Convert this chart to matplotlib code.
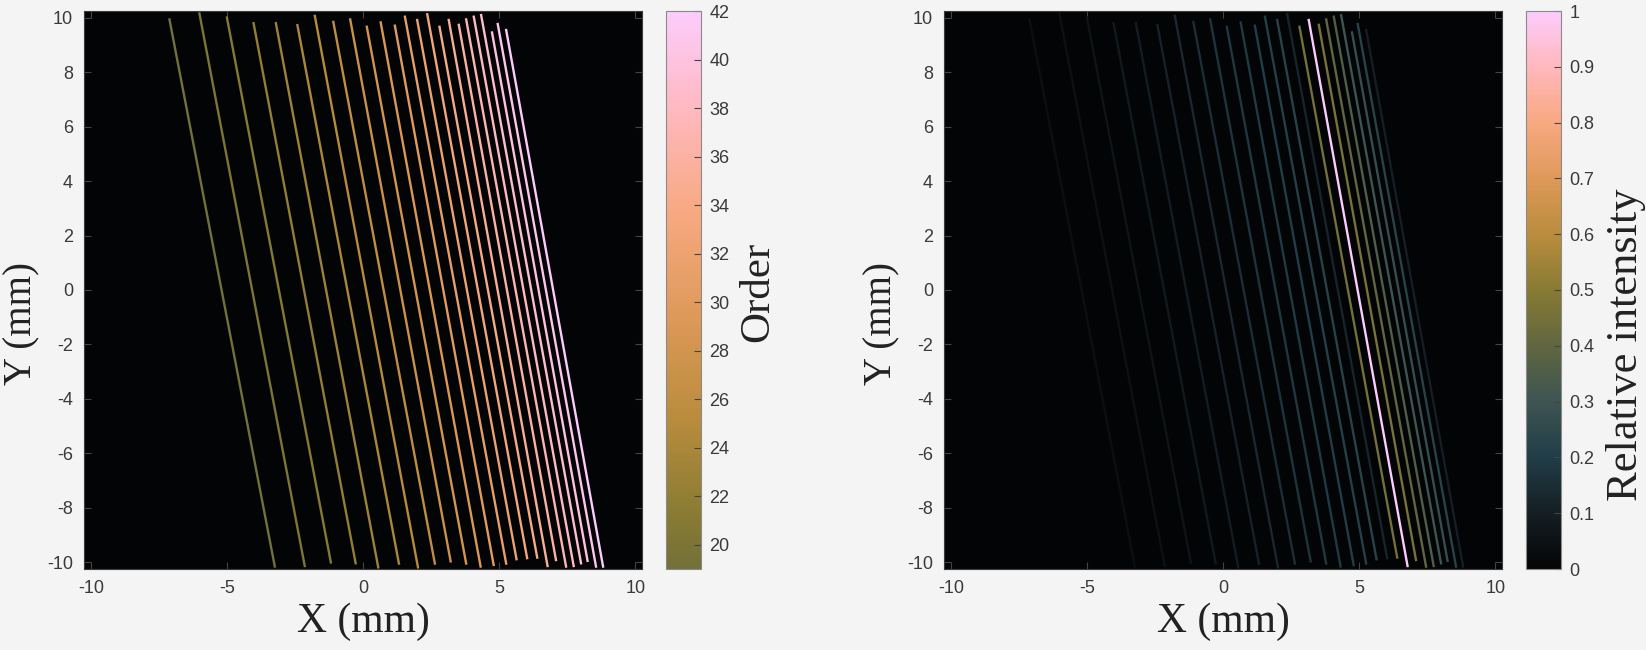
import numpy as np
import matplotlib
matplotlib.use("Agg")
from matplotlib import pyplot as plt
from matplotlib.colors import LinearSegmentedColormap, Normalize
from matplotlib.cm import ScalarMappable
from matplotlib.ticker import FormatStrFormatter

plt.rcParams["axes.unicode_minus"] = False

# diffraction orders, one line each
orders = list(range(19, 43))
x_top = [-7.11, -6.01, -5.00, -4.02, -3.20, -2.41, -1.77, -1.09, -0.47, 0.14, 0.65, 1.17,
         1.54, 1.99, 2.36, 2.81, 3.15, 3.52, 3.79, 4.07, 4.34, 4.74, 4.95, 5.26]
y_top = [9.94, 10.16, 10.01, 9.80, 9.80, 9.73, 10.07, 9.85, 9.94, 9.67, 9.83, 9.71,
         10.04, 9.92, 10.13, 9.67, 9.92, 9.74, 9.94, 10.04, 10.10, 9.46, 9.77, 9.55]
x_bottom = [-3.24, -2.14, -1.18, -0.27, 0.56, 1.32, 2.02, 2.64, 3.22, 3.79, 4.32, 4.80,
            5.26, 5.64, 6.03, 6.40, 6.78, 7.09, 7.46, 7.74, 8.01, 8.25, 8.56, 8.82]
y_bottom = [-10.16, -10.14, -10.01, -10.04, -10.19, -10.05, -10.19, -10.05, -9.97, -10.05, -10.16, -10.10,
            -10.05, -9.89, -9.85, -9.83, -10.14, -9.92, -10.16, -10.14, -10.04, -9.95, -10.16, -10.16]
intensity = [0.04, 0.05, 0.06, 0.08, 0.09, 0.11, 0.13, 0.15, 0.17, 0.18, 0.19, 0.20,
             0.21, 0.22, 0.12, 0.45, 1.00, 0.46, 0.40, 0.35, 0.30, 0.27, 0.22, 0.10]

order_ticks = list(range(20, 43, 2))
intensity_ticks = [0, 0.1, 0.2, 0.3, 0.4, 0.5, 0.6, 0.7, 0.8, 0.9, 1]

# batlowK-like colour map
anchors = [(0.0, (0.02, 0.02, 0.02)), (0.1, (0.08, 0.12, 0.14)), (0.2, (0.13, 0.24, 0.28)),
           (0.3, (0.24, 0.33, 0.32)), (0.4, (0.38, 0.40, 0.25)), (0.5, (0.53, 0.48, 0.20)),
           (0.6, (0.73, 0.55, 0.24)), (0.7, (0.87, 0.60, 0.35)), (0.8, (0.97, 0.66, 0.50)),
           (0.9, (1.0, 0.72, 0.74)), (1.0, (0.99, 0.80, 0.99))]
cmap_full = LinearSegmentedColormap.from_list("batlowk", anchors)
cmap_order = LinearSegmentedColormap.from_list("batlowk_top", cmap_full(np.linspace(0.45, 1, 256)))

BG = "#f4f4f4"
TICKFONT = "Liberation Sans"
LABELFONT = "Liberation Serif"
W, H = 1646, 650

fig = plt.figure(figsize=(16.46, 6.5), dpi=100, facecolor=BG)


def style_axes(ax):
    ax.set_facecolor("#030406")
    ax.set_xlim(-10.25, 10.25)
    ax.set_ylim(-10.25, 10.25)
    ax.set_xticks([-10, -5, 0, 5, 10])
    ax.set_yticks(range(-10, 11, 2))
    ax.tick_params(direction="in", length=5, color="#444444", top=True, right=True,
                   labelsize=13, labelcolor="#3a3a3a", pad=8)
    for lab in ax.get_xticklabels() + ax.get_yticklabels():
        lab.set_fontfamily(TICKFONT)
    for s in ax.spines.values():
        s.set_color("#3c3c3c")
        s.set_linewidth(0.8)
    ax.set_xlabel("X (mm)", fontsize=30, family=LABELFONT, color="#222222", labelpad=4)
    ax.set_ylabel("Y (mm)", fontsize=28, family=LABELFONT, color="#222222")
    ax.yaxis.set_label_coords(-0.078, 0.44)


def style_cbar(cb):
    cb.outline.set_edgecolor("#8a8a8a")
    cb.outline.set_linewidth(0.8)
    cb.ax.tick_params(direction="in", length=5, color="#444444", labelsize=13,
                      labelcolor="#3a3a3a", pad=6)
    for lab in cb.ax.get_yticklabels():
        lab.set_fontfamily(TICKFONT)


# left: coloured by order
ax1 = fig.add_axes([84 / W, 81 / H, 558 / W, 558 / H])
norm1 = Normalize(vmin=19, vmax=42)
for i in range(len(orders)):
    ax1.plot([x_top[i], x_bottom[i]], [y_top[i], y_bottom[i]], color=cmap_order(norm1(orders[i])), lw=1.7)
style_axes(ax1)
cax1 = fig.add_axes([666 / W, 81 / H, 35 / W, 558 / H])
cb1 = fig.colorbar(ScalarMappable(norm=norm1, cmap=cmap_order), cax=cax1, ticks=order_ticks)
style_cbar(cb1)
fig.text(758 / W, 1 - 292 / H, "Order", rotation=90, ha="center", va="center",
         fontsize=31, family=LABELFONT, color="#222222")

# right: coloured by relative intensity
ax2 = fig.add_axes([944 / W, 81 / H, 558 / W, 558 / H])
norm2 = Normalize(vmin=0, vmax=1)
for i in np.argsort(intensity):
    ax2.plot([x_top[i], x_bottom[i]], [y_top[i], y_bottom[i]], color=cmap_full(norm2(intensity[i])), lw=1.7)
style_axes(ax2)
cax2 = fig.add_axes([1526 / W, 81 / H, 35 / W, 558 / H])
cb2 = fig.colorbar(ScalarMappable(norm=norm2, cmap=cmap_full), cax=cax2, ticks=intensity_ticks)
cb2.ax.yaxis.set_major_formatter(FormatStrFormatter("%g"))
style_cbar(cb2)
fig.text(1626 / W, 1 - 345 / H, "Relative intensity", rotation=90, ha="center", va="center",
         fontsize=32, family=LABELFONT, color="#222222")

fig.savefig("out.png", dpi=100, facecolor=BG)
